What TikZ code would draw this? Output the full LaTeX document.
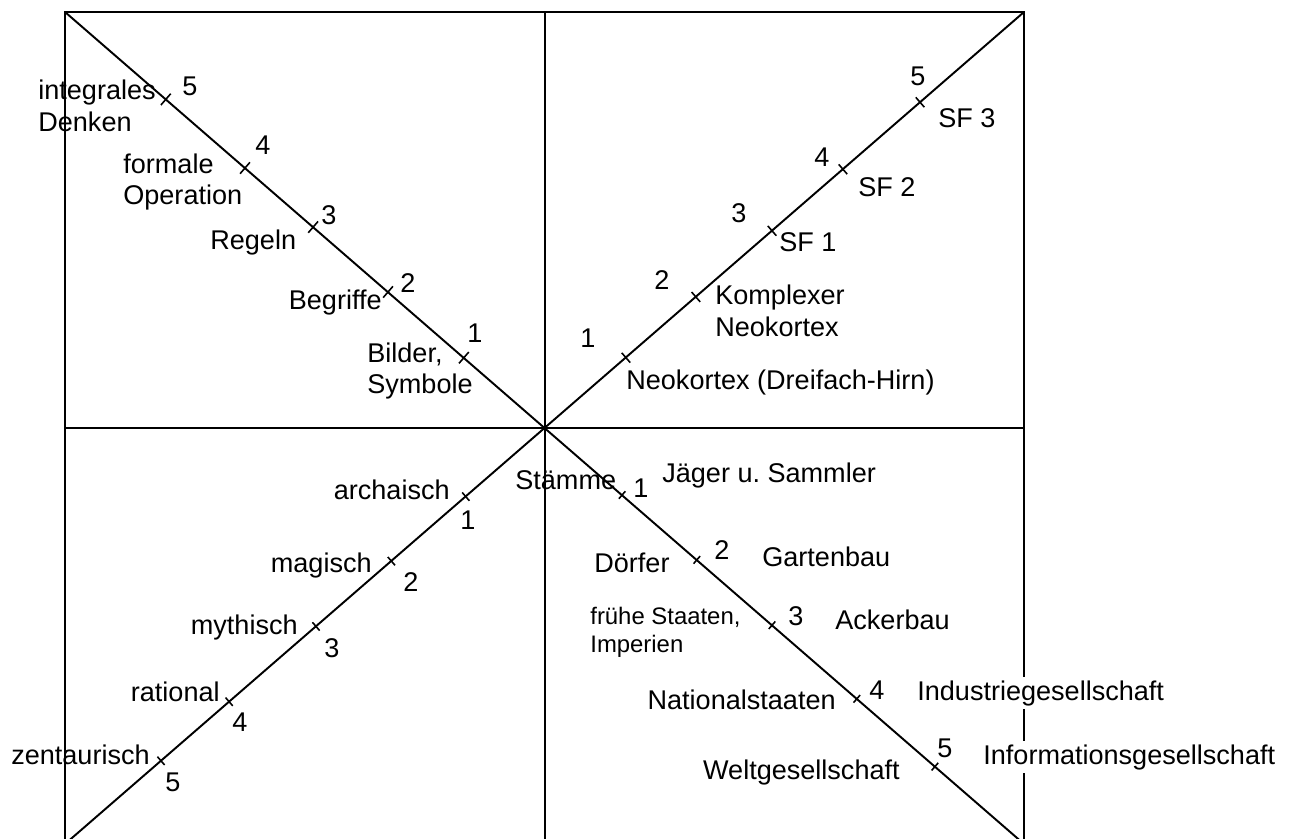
\documentclass[tikz,border=0pt]{standalone}
\usepackage{fontspec}
\setmainfont{Liberation Sans}
\usetikzlibrary{calc}

\begin{document}
\begin{tikzpicture}[
        x=0.02cm, y=-0.02cm,
        axis/.style={line width=1.1pt},
        tickmark/.style={line width=0.9pt},
        stagetext/.style={inner sep=0pt, align=left, font=\fontsize{15.4}{18.2}\selectfont},
        smalltext/.style={stagetext, font=\fontsize{13.6}{16}\selectfont},
        num/.style={inner sep=0pt, font=\fontsize{15.4}{18.2}\selectfont}
    ]
        \useasboundingbox (0,0) rectangle (1293,838);
        \clip (0,0) rectangle (1293,838);

        % Frame and axes
        \coordinate (c) at (545,428);
        \coordinate (tl) at (65,12);
        \coordinate (tr) at (1024,12);
        \coordinate (bl) at (65,844);
        \coordinate (br) at (1024,844);
        \coordinate (top) at (545,12);
        \coordinate (bot) at (545,844);
        \coordinate (lft) at (65,428);
        \coordinate (rgt) at (1024,428);

        \draw [axis] (bl) -- (tl) -- (tr) -- (br);
        \draw [axis] (top) -- (bot);
        \draw [axis] (lft) -- (rgt);
        \draw [axis] (tl) -- (br);
        \draw [axis] (tr) -- (bl);

        % Ticks on the diagonals
        \foreach \corner/\len/\fa/\fb/\fc/\fd/\fe in {
            tl/0.15cm/0.169/0.327/0.483/0.625/0.790,
            tr/0.13cm/0.169/0.315/0.474/0.622/0.783,
            bl/0.11cm/0.165/0.320/0.477/0.658/0.800,
            br/0.10cm/0.161/0.317/0.474/0.651/0.814}
            \foreach \f in {\fa,\fb,\fc,\fd,\fe} {
                \coordinate (p) at ($(c)!\f!(\corner)$);
                \draw [tickmark] ($(p)!\len!90:(c)$) -- ($(p)!\len!-90:(c)$);
            }

        % Upper left
        \node [stagetext, anchor=west] (integral) at (38,106) {integrales\\Denken};
        \node [num] (tl5) at (190,86) {5};
        \node [stagetext, anchor=west] (formal) at (123,182) {formale\\Operation};
        \node [num] (tl4) at (263,145) {4};
        \node [stagetext, anchor=west] (rules) at (210,243) {Regeln};
        \node [num] (tl3) at (329,215) {3};
        \node [stagetext, anchor=east] (concepts) at (382,302) {Begriffe};
        \node [num] (tl2) at (408,283) {2};
        \node [stagetext, anchor=west] (images) at (367,371) {Bilder,\\Symbole};
        \node [num] (tl1) at (475,333) {1};

        % Upper right
        \node [num] (tr5) at (918,76) {5};
        \node [stagetext, anchor=west] (sf3) at (938,118) {SF 3};
        \node [num] (tr4) at (822,157) {4};
        \node [stagetext, anchor=west] (sf2) at (858,187) {SF 2};
        \node [num] (tr3) at (739,213) {3};
        \node [stagetext, anchor=west] (sf1) at (779,242) {SF 1};
        \node [num] (tr2) at (662,280) {2};
        \node [stagetext, anchor=west] (complex) at (715,311) {Komplexer\\Neokortex};
        \node [num] (tr1) at (588,338) {1};
        \node [stagetext, anchor=west] (neo) at (626,382) {Neokortex (Dreifach-Hirn)};

        % Lower left
        \node [stagetext, anchor=east] (archaic) at (450,490) {archaisch};
        \node [num] (bl1) at (468,520) {1};
        \node [stagetext, anchor=east] (magic) at (372,565) {magisch};
        \node [num] (bl2) at (411,582) {2};
        \node [stagetext, anchor=east] (mythic) at (298,627) {mythisch};
        \node [num] (bl3) at (332,648) {3};
        \node [stagetext, anchor=east] (rational) at (220,692) {rational};
        \node [num] (bl4) at (240,722) {4};
        \node [stagetext, anchor=east] (centaur) at (150,755) {zentaurisch};
        \node [num] (bl5) at (173,782) {5};

        % Lower right
        \node [stagetext, anchor=west] (tribes) at (515,480) {Stämme};
        \node [num] (br1) at (641,488) {1};
        \node [stagetext, anchor=west] (hunters) at (662,475) {Jäger u.\ Sammler};
        \node [stagetext, anchor=west] (villages) at (594,563) {Dörfer};
        \node [num] (br2) at (722,550) {2};
        \node [stagetext, anchor=west] (garden) at (762,557) {Gartenbau};
        \node [smalltext, anchor=west] (states) at (590,632) {frühe Staaten,\\Imperien};
        \node [num] (br3) at (796,616) {3};
        \node [stagetext, anchor=west] (farming) at (835,620) {Ackerbau};
        \node [stagetext, anchor=east] (nations) at (836,700) {Nationalstaaten};
        \node [num] (br4) at (877,690) {4};
        \node [stagetext, anchor=west, fill=white, inner ysep=2pt] (industry) at (917,693) {Industriegesellschaft};
        \node [stagetext, anchor=east] (world) at (900,772) {Weltgesellschaft};
        \node [num] (br5) at (945,748) {5};
        \node [stagetext, anchor=west, fill=white, inner ysep=2pt] (info) at (983,757) {Informationsgesellschaft};
    \end{tikzpicture}
\end{document}
